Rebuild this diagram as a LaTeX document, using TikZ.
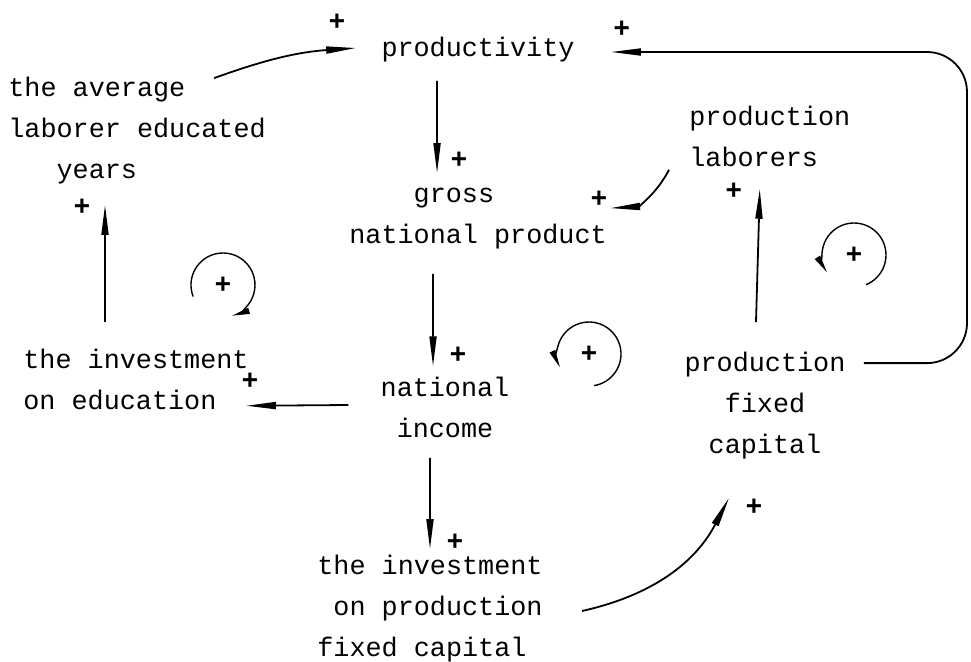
\documentclass[tikz,border=0pt]{standalone}
\usepackage{fontspec}
\newfontfamily\typefont{Liberation Mono}
\usetikzlibrary{arrows.meta,calc}
\begin{document}
\begin{tikzpicture}[x=0.5pt,y=-0.5pt,
  var/.style={inner sep=0pt,font=\typefont\fontsize{13.4}{20.5}\selectfont},
  pol/.style={inner sep=0pt,font=\typefont\bfseries\fontsize{14}{14}\selectfont},
  link/.style={-{Triangle[length=15pt,width=3.5pt]},line width=0.9pt},
  loopy/.style={-{Triangle[length=9pt,width=3pt]},line width=0.7pt}]
\useasboundingbox (0,0) rectangle (971,661);
\node[var] (prod) at (478,50) {productivity};
\node[var,align=left,anchor=west] (avg) at (8,131) {the average\\laborer educated\\\phantom{xxx}years};
\node[var,align=left,anchor=west] (gnp) at (349,219) {\phantom{xxxx}gross\\national product};
\node[var,align=left,anchor=west] (lab) at (689,136) {production\\laborers};
\node[var,align=left,anchor=west] (edu) at (23,379) {the investment\\on education};
\node[var,align=center] (inc) at (445,407) {national\\income};
\node[var,align=center] (fix) at (765,406) {production\\fixed\\capital};
\node[var,align=left,anchor=west] (invp) at (317,609) {the investment\\\phantom{x}on production\\fixed capital};
\coordinate (rim) at (967,200);
\draw[link] ($(avg.north east)+(-52,1)$) to[bend left=8] ($(prod.west)+(-25,-2)$);
\draw[link] ($(prod.south)+(-41,18)$) -- ($(gnp.north)+(-41,-15)$);
\draw[link] ($(gnp.south)+(-45,24)$) -- ($(inc.north)+(-12,-10)$);
\draw[link] ($(inc.west)+(-32,-2)$) -- ($(edu.south east)+(-3,-4)$);
\draw[link] ($(edu.north west)+(82,-26)$) -- ($(avg.south west)+(97,20)$);
\draw[link] ($(inc.south)+(-15,20)$) -- ($(invp.north)+(0,-6)$);
\draw[link] ($(invp.east)+(39,2)$) to[bend right=25] ($(fix.south)+(-36,38)$);
\draw[link] ($(lab.south west)+(-20,3)$) to[bend left=30] ($(gnp.north east)+(3,20)$);
\draw[link] ($(fix.north)+(-9,-30)$) -- ($(lab.south)+(-10,22)$);
\draw[link,rounded corners=20pt] ($(fix.north east)+(18,11)$) -| (rim) |- ($(prod.east)+(36,2)$);
\node[pol] at ($(prod.west)+(-44,-28)$) {+};
\node[pol] at ($(gnp.north)+(-19,-28)$) {+};
\node[pol] at ($(inc.north)+(13,-21)$) {+};
\node[pol] at ($(edu.east)+(1,2)$) {+};
\node[pol] at ($(avg.south west)+(74,22)$) {+};
\node[pol] at ($(invp.north)+(25,-13)$) {+};
\node[pol] at ($(fix.south)+(-11,47)$) {+};
\node[pol] at ($(gnp.north east)+(-8,11)$) {+};
\node[pol] at ($(lab.south)+(-36,25)$) {+};
\node[pol] at ($(prod.east)+(47,-21)$) {+};
\node[pol] (loopa) at (223,285) {+};
\node[pol] (loopb) at (589,354) {+};
\node[pol] (loopc) at (854,255) {+};
\draw[loopy] ($(loopa)+(159:32)$) arc[start angle=159,end angle=434,radius=32];
\draw[loopy] ($(loopb)+(81:32)$) arc[start angle=81,end angle=-205,radius=32];
\draw[loopy] ($(loopc)+(68:32)$) arc[start angle=68,end angle=-213,radius=32];
\end{tikzpicture}
\end{document}
